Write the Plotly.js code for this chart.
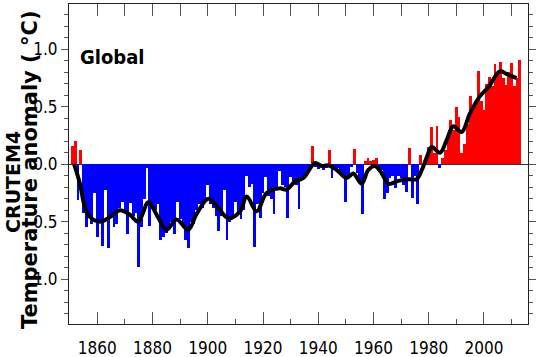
<!DOCTYPE html>
<html>
<head>
<meta charset="utf-8">
<script src="https://cdn.plot.ly/plotly-3.0.1.min.js"></script>
<style>
  html, body { margin: 0; padding: 0; background: #fff; }
  #chart { width: 536px; height: 357px; }
</style>
</head>
<body>
<div id="chart"></div>
<script>
// ---- data ----
const firstYear = 1851;
const anomalies = [
  0.16, 0.20, -0.31, 0.12, -0.42, -0.55, -0.45, -0.52, -0.25, -0.63,   // 1851-1860
  -0.50, -0.71, -0.22, -0.73, -0.44, -0.55, -0.52, -0.38, -0.33, -0.42, // 1861-1870
  -0.61, -0.34, -0.45, -0.42, -0.89, -0.55, -0.30, -0.03, -0.54, -0.37, // 1871-1880
  -0.40, -0.35, -0.66, -0.63, -0.60, -0.55, -0.50, -0.61, -0.33, -0.48, // 1881-1890
  -0.55, -0.66, -0.73, -0.50, -0.52, -0.40, -0.35, -0.38, -0.30, -0.18, // 1891-1900
  -0.35, -0.38, -0.45, -0.58, -0.45, -0.22, -0.66, -0.50, -0.45, -0.33, // 1901-1910
  -0.42, -0.48, -0.40, -0.10, -0.20, -0.17, -0.72, -0.35, -0.47, -0.25, // 1911-1920
  -0.11, -0.28, -0.30, -0.43, -0.20, -0.06, -0.18, -0.20, -0.47, -0.11, // 1921-1930
  -0.15, -0.18, -0.39, -0.12, -0.10, -0.08, -0.03, 0.16, -0.02, -0.04,  // 1931-1940
  -0.02, -0.05, -0.03, 0.12, -0.12, -0.04, -0.03, -0.08, -0.10, -0.33,  // 1941-1950
  -0.10, -0.02, 0.13, -0.08, -0.15, -0.43, 0.03, 0.05, 0.03, 0.04,      // 1951-1960
  0.05, -0.03, -0.05, -0.30, -0.25, -0.12, -0.10, -0.21, -0.10, -0.12,  // 1961-1970
  -0.18, -0.24, 0.14, -0.29, -0.10, -0.35, 0.08, -0.03, 0.05, 0.15,     // 1971-1980
  0.32, 0.10, 0.33, -0.03, 0.05, 0.12, 0.25, 0.385, 0.30, 0.50,         // 1981-1990
  0.41, 0.10, 0.18, 0.35, 0.59, 0.47, 0.55, 0.81, 0.55, 0.47,           // 1991-2000
  0.70, 0.76, 0.68, 0.87, 0.80, 0.89, 0.75, 0.69, 0.80, 0.88,           // 2001-2010
  0.68, 0.75, 0.91                                                      // 2011-2013
];
const years = anomalies.map((_, i) => firstYear + i);

// smoothed curve
const smoothYears = [1851.6, 1853.7, 1855.5, 1857.4, 1861.0, 1864.6, 1868.2, 1871.8, 1874.8, 1878.5,
  1881.5, 1885.1, 1888.7, 1892.9, 1896.0, 1900.2, 1903.8, 1907.4, 1911.7, 1914.1,
  1917.7, 1921.3, 1926.1, 1928.6, 1931.6, 1934.6, 1938.8, 1941.2, 1943.6, 1946.7,
  1950.3, 1952.7, 1955.7, 1958.1, 1960.5, 1963.0, 1965.4, 1969.0, 1972.6, 1975.6,
  1977.5, 1979.3, 1981.1, 1984.1, 1986.5, 1988.9, 1991.9, 1994.9, 1998.5, 2001.6,
  2005.8, 2008.2, 2011.8];
const smoothVals = [0.00, -0.17, -0.37, -0.46, -0.50, -0.46, -0.40, -0.44, -0.50, -0.33,
  -0.44, -0.57, -0.48, -0.57, -0.43, -0.30, -0.38, -0.47, -0.41, -0.28,
  -0.41, -0.25, -0.21, -0.22, -0.15, -0.12, 0.01, -0.015, -0.01, -0.05,
  -0.12, -0.08, -0.17, -0.05, -0.015, -0.08, -0.17, -0.145, -0.13, -0.13,
  -0.05, 0.06, 0.15, 0.10, 0.21, 0.33, 0.28, 0.44, 0.59, 0.67,
  0.81, 0.785, 0.75];

const yTickVals = [-1, -0.5, 0, 0.5, 1];
const yTickText = ['1.0', '0.5', '0.0', '0.5', '1.0'];

// ---- chart ----
const NARROW = '"Liberation Sans Narrow", "DejaVu Sans Condensed", "Arial Narrow", sans-serif';
const BOLD = '"DejaVu Sans", "Liberation Sans", Arial, sans-serif';
const xRange = [1849.75, 2015.95];

const bars = {
  type: 'bar',
  x: years,
  y: anomalies,
  width: 1,
  marker: { color: anomalies.map(v => v >= 0 ? '#ff0000' : '#0000ff'), line: { width: 0 } },
  hoverinfo: 'x+y'
};
const smooth = {
  type: 'scatter',
  mode: 'lines',
  x: smoothYears,
  y: smoothVals,
  line: { color: '#000000', width: 4, shape: 'spline', smoothing: 1 },
  hoverinfo: 'skip'
};
const topAxisHolder = {
  type: 'scatter', mode: 'markers', x: [years[0]], y: [0],
  xaxis: 'x2', yaxis: 'y', marker: { opacity: 0 }, hoverinfo: 'skip'
};

const layout = {
  width: 536, height: 357,
  margin: { l: 69, r: 8, t: 4, b: 33, pad: 0 },
  paper_bgcolor: '#ffffff', plot_bgcolor: '#ffffff',
  showlegend: false,
  bargap: 0,
  xaxis: {
    range: xRange,
    showline: true, linecolor: '#222', linewidth: 1, mirror: true,
    showgrid: false, zeroline: false,
    ticks: 'inside', tickmode: 'linear', tick0: 1860, dtick: 20,
    ticklen: 12, tickwidth: 1, tickcolor: '#555',
    minor: { ticks: 'inside', tick0: 1850, dtick: 10, ticklen: 5, tickwidth: 1, tickcolor: '#555' },
    tickfont: { family: NARROW, size: 17, color: '#000' },
    ticklabelstandoff: 9
  },
  xaxis2: {
    overlaying: 'x', side: 'top', range: xRange,
    showline: false, showgrid: false, zeroline: false,
    ticks: 'inside', tickmode: 'linear', tick0: 1850, dtick: 10,
    ticklen: 12, tickwidth: 1, tickcolor: '#555',
    showticklabels: false
  },
  yaxis: {
    range: [-1.39, 1.394],
    showline: true, linecolor: '#222', linewidth: 1, mirror: 'ticks',
    showgrid: false,
    zeroline: true, zerolinecolor: '#333', zerolinewidth: 1,
    tickmode: 'array', tickvals: yTickVals, ticktext: yTickText,
    ticks: 'outside', ticklen: 7, tickwidth: 1, tickcolor: '#555',
    minor: { ticks: 'outside', tick0: 0, dtick: 0.1, ticklen: 4, tickwidth: 1, tickcolor: '#555' },
    tickfont: { family: NARROW, size: 17, color: '#000' }
  },
  annotations: [
    {
      text: 'Global', xref: 'paper', yref: 'paper', x: 0.0937, y: 0.833,
      xanchor: 'center', yanchor: 'middle', showarrow: false,
      font: { family: NARROW, size: 20, color: '#000', weight: 'bold' }
    },
    {
      text: 'CRUTEM4', xref: 'paper', yref: 'paper', x: 0, y: 0.444,
      xshift: -56, xanchor: 'center', yanchor: 'middle', textangle: -90, showarrow: false,
      font: { family: BOLD, size: 19, color: '#000', weight: 'bold' }
    },
    {
      text: 'Temperature anomaly ( °C)', xref: 'paper', yref: 'paper', x: 0, y: 0.481,
      xshift: -39, xanchor: 'center', yanchor: 'middle', textangle: -90, showarrow: false,
      font: { family: BOLD, size: 21, color: '#000', weight: 'bold' }
    }
  ]
};

Plotly.newPlot('chart', [bars, smooth, topAxisHolder], layout, { staticPlot: true, displayModeBar: false });
</script>
</body>
</html>
